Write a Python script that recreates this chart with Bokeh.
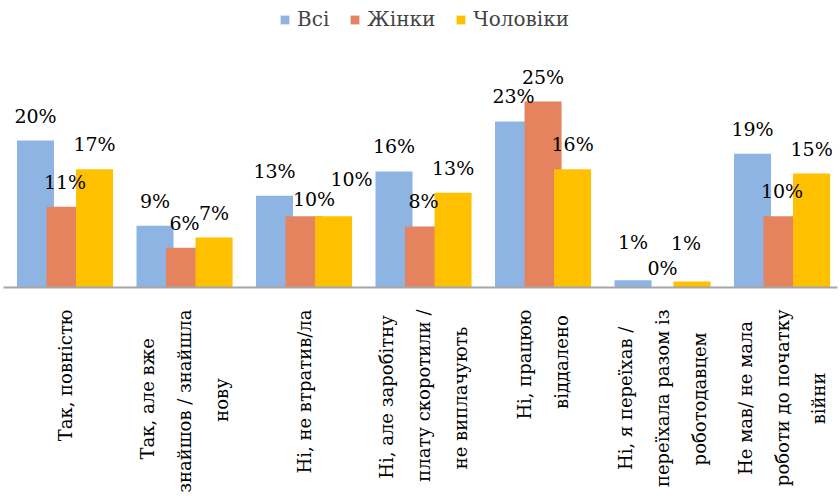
import glob
import numpy as np
from bokeh.plotting import figure
from bokeh.models import Range1d, FixedTicker, ColumnDataSource, Legend, LegendItem
from bokeh.transform import dodge
from bokeh.embed import file_html
from bokeh.resources import INLINE
from bokeh.core.properties import value

categories = [
    "Так, повністю",
    "Так, але вже\nзнайшов / знайшла\nнову",
    "Ні, не втратив/ла",
    "Ні, але заробітну\nплату скоротили /\nне виплачують",
    "Ні, працюю\nвіддалено",
    "Ні, я переїхав /\nпереїхала разом із\nроботодавцем",
    "Не мав/ не мала\nроботи до початку\nвійни",
]
series_names = ["Всі", "Жінки", "Чоловіки"]
series_colors = ["#8EB4E3", "#E4835E", "#FFC000"]

vsi = [20.0, 8.4, 12.5, 15.8, 22.6, 1.0, 18.2]
zhinky = [11.0, 5.4, 9.7, 8.3, 25.3, 0.0, 9.7]
choloviky = [16.1, 6.8, 9.7, 12.9, 16.1, 0.8, 15.5]

vsi_labels = ["20%", "9%", "13%", "16%", "23%", "1%", "19%"]
zhinky_labels = ["11%", "6%", "10%", "8%", "25%", "0%", "10%"]
choloviky_labels = ["17%", "7%", "10%", "13%", "16%", "1%", "15%"]

# manual nudges (px) of a few data labels, as placed in the reference
vsi_label_dx = [0, 0, 0, 0, 0, 0, 0]
vsi_label_dy = [0, 0, 0, 0, 0, -13, 0]
zhinky_label_dx = [0, 0, 10, 0, 0, 0, 0]
zhinky_label_dy = [0, 0, 8, 0, 0, 5, 0]
choloviky_label_dx = [0, 0, 18, 0, 0, -6, 0]
choloviky_label_dy = [0, 0, -12, 0, 0, -14, 0]

FONT = "DejaVu Serif"
TICK_SIZE = 18
LABEL_GAP = -14


def _measure(s, size):
    try:
        from PIL import ImageFont
        paths = glob.glob("/usr/share/fonts/**/DejaVuSerif.ttf", recursive=True)
        f = ImageFont.truetype(paths[0], size)
        return f.getlength(s)
    except Exception:
        return len(s) * 0.6 * size


def centered(label, size):
    # lines of a rotated multi-line tick label are end-aligned by Bokeh;
    # pad shorter lines so that they appear centred as in the reference
    lines = label.split("\n")
    if len(lines) == 1:
        return label
    widths = [_measure(l, size) for l in lines]
    mw = max(widths)
    sp = _measure("\u00a0", size) or 0.318 * size
    out = []
    for l, w in zip(lines, widths):
        n = int(round((mw - w) / 2 / sp))
        out.append(l + "\u00a0" * n)
    return "\n".join(out)


x_idx = list(range(len(categories)))
source = ColumnDataSource(dict(
    x=x_idx,
    vsi=vsi, zhinky=zhinky, choloviky=choloviky,
    vsi_l=vsi_labels, zhinky_l=zhinky_labels, choloviky_l=choloviky_labels,
    vsi_dx=vsi_label_dx, zhinky_dx=zhinky_label_dx, choloviky_dx=choloviky_label_dx,
    vsi_dy=[LABEL_GAP + d for d in vsi_label_dy],
    zhinky_dy=[LABEL_GAP + d for d in zhinky_label_dy],
    choloviky_dy=[LABEL_GAP + d for d in choloviky_label_dy],
))

W, H = 840, 496
p = figure(width=W, height=H, output_backend="svg", toolbar_location=None,
           x_range=Range1d(-0.515, 6.464), y_range=Range1d(0, 39.05),
           y_axis_location=None, min_border_left=3, min_border_right=3,
           min_border_top=0, min_border_bottom=209)
p.outline_line_color = None
p.xgrid.grid_line_color = None
p.ygrid.grid_line_color = None
p.background_fill_color = "white"
p.border_fill_color = "white"

offset = 0.247
bw = 0.31
keys = ["vsi", "zhinky", "choloviky"]
offs = [-offset, 0.0, offset]
renderers = []
for k, o, c in zip(keys, offs, series_colors):
    r = p.vbar(x=dodge("x", o), top=k, width=bw, source=source,
               fill_color=c, line_color=None)
    renderers.append(r)

for k, o in zip(keys, offs):
    p.text(x=dodge("x", o), y=k, text=k + "_l", source=source,
           text_align="center", text_baseline="bottom",
           x_offset=k + "_dx", y_offset=k + "_dy",
           text_font=value(FONT), text_font_size="19px", text_color="black")

ax = p.xaxis[0]
ax.ticker = FixedTicker(ticks=x_idx)
ax.major_label_overrides = {i: centered(c, TICK_SIZE) for i, c in zip(x_idx, categories)}
ax.major_label_orientation = np.pi / 2
ax.major_label_text_font = FONT
ax.major_label_text_font_size = f"{TICK_SIZE}px"
ax.major_label_text_line_height = 1.75
ax.major_label_text_color = "black"
ax.major_label_standoff = 16
ax.axis_line_color = "#a6a6a6"
ax.axis_line_width = 2
ax.major_tick_line_color = None
ax.minor_tick_line_color = None

legend = Legend(items=[LegendItem(label=n, renderers=[r]) for n, r in zip(series_names, renderers)],
                location=(276, 256), orientation="horizontal",
                label_text_font=FONT, label_text_font_size="20px",
                glyph_width=11, glyph_height=11, label_standoff=7, spacing=20,
                border_line_color=None, background_fill_alpha=0, padding=4, margin=0)
p.add_layout(legend)

open("out.html", "w").write(file_html(p, INLINE))
